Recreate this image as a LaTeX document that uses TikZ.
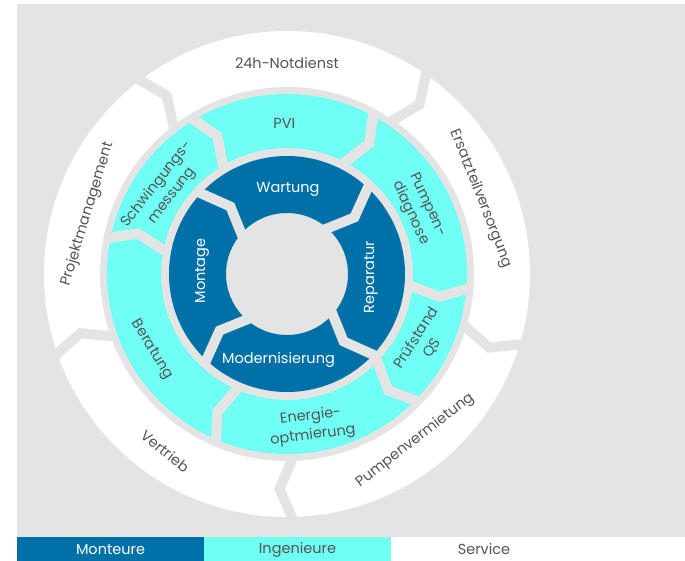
\documentclass[tikz,border=0pt]{standalone}
\usepackage{fontspec}
\setmainfont{Poppins}
\definecolor{bgg}{RGB}{228,228,228}
\definecolor{ingc}{RGB}{112,255,245}
\definecolor{montc}{RGB}{0,113,168}
\definecolor{txtg}{RGB}{85,85,85}
\tikzset{
  gap/.style={draw=bgg, line width=10pt, line join=miter, line cap=butt},
  lbl/.style={font=\fontsize{14.5}{19}\selectfont, text=txtg, align=center, inner sep=0pt},
  wlbl/.style={lbl, text=white},
}
\begin{document}
\begin{tikzpicture}[x=1pt,y=1pt]
\useasboundingbox (-287,-287) rectangle (398,274);
\fill[white] (-287,-287) rectangle (398,274);
\fill[bgg] (-270,-263) rectangle (398,270);
% legend
\fill[montc] (-270,-287) rectangle (-83,-263);
\fill[ingc] (-83,-287) rectangle (104,-263);
\node[wlbl] (lmont) at (-176.5,-275.5) {Monteure};
\node[lbl] (ling) at (10.5,-275.5) {Ingenieure};
\node[lbl] (lserv) at (197,-275.5) {Service};
% rings
\fill[white, even odd rule] (0,0) circle (243) circle (187);
\fill[ingc, even odd rule] (0,0) circle (180) circle (126);
\fill[montc, even odd rule] (0,0) circle (118) circle (61);
% gaps white ring
\foreach \t in {127.5,55.5,-16.5,-88.5,-160.5}
  \draw[gap] (\t:247) -- ({\t-3.5}:215) -- ({\t+0.5}:183);
% gaps cyan ring
\foreach \o/\m/\i in {121.7/116.8/121.2, 62/57.8/63.4, -4.3/-8.5/-5.2, -44/-49/-43.3, 247.3/243.2/247, 168.8/164.8/169.8}
  \draw[gap] (\o:184) -- (\m:154.5) -- (\i:122);
% gaps dark ring
\foreach \t in {137.5,47.5,-42.5,-132.5}
  \draw[gap] (\t:122) -- ({\t-7.5}:88) -- ({\t+3}:57);
% white ring labels
\node[lbl] (notd) at (90:211) {24h-Notdienst};
\node[lbl, rotate=-68.5] (ersatz) at (21.2:208) {Ersatzteilversorgung};
\node[lbl, rotate=37.6] (vermiet) at (-52.4:210) {Pumpenvermietung};
\node[lbl, rotate=-39] (vertrieb) at (235.5:215) {Vertrieb};
\node[lbl, rotate=73] (projekt) at (163.3:208) {Projektmanagement};
% cyan ring labels
\node[lbl] (pvi) at (91:151) {PVI};
\node[lbl, rotate=-65] (pdiag) at (26.2:147) {Pumpen-\\diagnose};
\node[lbl, rotate=52] (schwing) at (145.6:148.5) {Schwingungs-\\messung};
\node[lbl, rotate=-59] (berat) at (209.3:155) {Beratung};
\node[lbl, rotate=7] (energ) at (-80.7:154) {Energie-\\optmierung};
\node[lbl, rotate=58] (pruef) at (-26.7:153.4) {Prüfstand\\QS};
% dark ring labels
\node[wlbl] (wart) at (1,84.5) {Wartung};
\node[wlbl, rotate=90] (repar) at (84,-3) {Reparatur};
\node[wlbl, rotate=90] (mont) at (-85,3) {Montage};
\node[wlbl] (modern) at (-8.5,-86) {Modernisierung};
\end{tikzpicture}
\end{document}
